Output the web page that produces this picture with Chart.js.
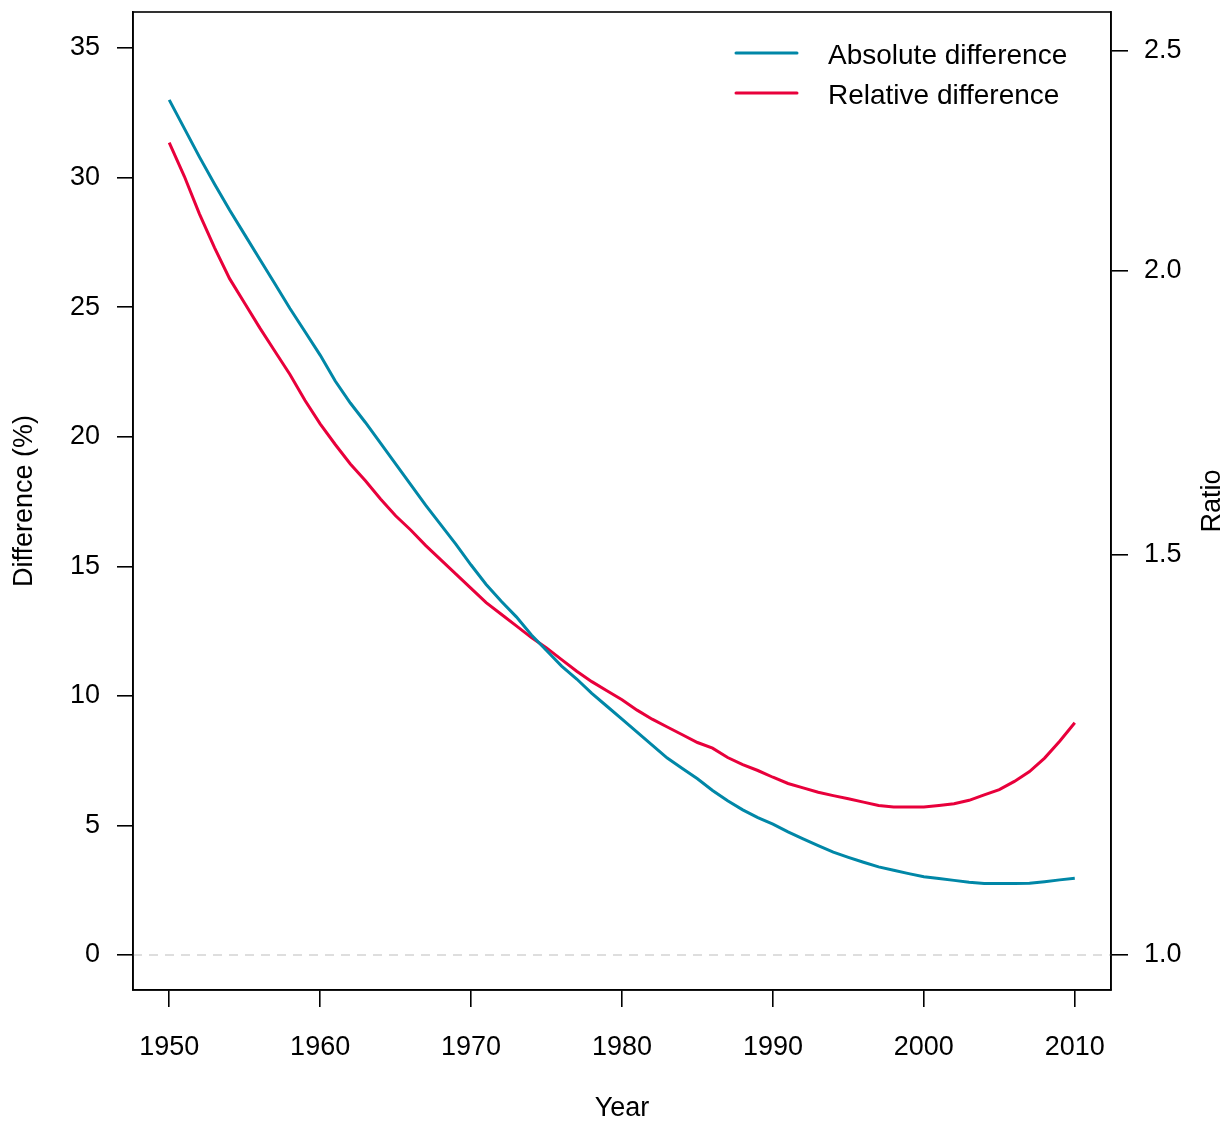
<!DOCTYPE html>
<html>
<head>
<meta charset="utf-8">
<script src="https://cdn.jsdelivr.net/npm/chart.js@4/dist/chart.umd.min.js"></script>
<style>
  html, body { margin: 0; padding: 0; background: #ffffff; }
  #wrap { width: 1228px; height: 1124px; }
</style>
</head>
<body>
<div id="wrap"><canvas id="chart" width="1228" height="1124"></canvas></div>
<script>
// Years of observation
const years = [
  1950, 1951, 1952, 1953, 1954, 1955, 1956, 1957, 1958, 1959,
  1960, 1961, 1962, 1963, 1964, 1965, 1966, 1967, 1968, 1969,
  1970, 1971, 1972, 1973, 1974, 1975, 1976, 1977, 1978, 1979,
  1980, 1981, 1982, 1983, 1984, 1985, 1986, 1987, 1988, 1989,
  1990, 1991, 1992, 1993, 1994, 1995, 1996, 1997, 1998, 1999,
  2000, 2001, 2002, 2003, 2004, 2005, 2006, 2007, 2008, 2009,
  2010
];

// Absolute difference (percentage points)
const absoluteDiff = [
  33.0, 31.9, 30.8, 29.75, 28.75, 27.8, 26.85, 25.9, 24.95, 24.05,
  23.15, 22.15, 21.3, 20.55, 19.75, 18.95, 18.15, 17.35, 16.6, 15.85,
  15.05, 14.3, 13.65, 13.05, 12.35, 11.75, 11.15, 10.65, 10.1, 9.6,
  9.1, 8.6, 8.1, 7.6, 7.2, 6.8, 6.35, 5.95, 5.6, 5.3,
  5.05, 4.75, 4.48, 4.22, 3.97, 3.77, 3.58, 3.4, 3.27, 3.14,
  3.02, 2.95, 2.88, 2.81, 2.76, 2.76, 2.76, 2.77, 2.83, 2.9,
  2.96
];

// Relative difference (plotted on the difference scale, read on the ratio axis)
const relativeDiff = [
  31.35, 30.05, 28.6, 27.3, 26.1, 25.15, 24.2, 23.3, 22.4, 21.4,
  20.5, 19.7, 18.95, 18.3, 17.6, 16.95, 16.4, 15.8, 15.25, 14.7,
  14.15, 13.6, 13.15, 12.7, 12.25, 11.85, 11.4, 10.95, 10.55, 10.2,
  9.85, 9.45, 9.1, 8.8, 8.5, 8.2, 7.98, 7.62, 7.35, 7.12,
  6.86, 6.62, 6.45, 6.28, 6.15, 6.03, 5.9, 5.77, 5.71, 5.71,
  5.71, 5.77, 5.84, 5.97, 6.18, 6.38, 6.7, 7.08, 7.6, 8.25,
  8.96
];

const seriesNames = ['Absolute difference', 'Relative difference'];
const seriesColors = ['#0087a7', '#e8003b'];

const xTicks = [1950, 1960, 1970, 1980, 1990, 2000, 2010];
const yTicks = [0, 5, 10, 15, 20, 25, 30, 35];
const ratioTicks = [1.0, 1.5, 2.0, 2.5];

const titleX = 'Year';
const titleLeft = 'Difference (%)';
const titleRight = 'Ratio';

// Axis limits (data range padded on each side)
const xMin = 1947.6, xMax = 2012.4;
const yMin = -1.35, yMax = 36.39;
// Ratio axis is logarithmic: difference value = ratioK * ln(ratio)
const ratioK = 38.1;
const ratioMin = Math.exp(yMin / ratioK);
const ratioMax = Math.exp(yMax / ratioK);

const FONT = '"Liberation Sans", Arial, sans-serif';
const FS = 27;

const tickFont = { family: FONT, size: FS };

// Keep scale labels from pushing the plotting region inwards
function fixVertical(width) {
  return s => { s.width = width; s.paddingTop = 0; s.paddingBottom = 0; };
}
function fixHorizontal(height) {
  return s => { s.height = height; s.paddingLeft = 0; s.paddingRight = 0; };
}

// Frame around the plotting region
const framePlugin = {
  id: 'frame',
  afterDraw(chart) {
    const { ctx, chartArea: a } = chart;
    ctx.save();
    ctx.strokeStyle = '#000';
    ctx.lineWidth = 1.6;
    ctx.strokeRect(a.left, a.top, a.right - a.left, a.bottom - a.top);
    ctx.restore();
  }
};

// Dashed reference line at zero difference
const zeroLinePlugin = {
  id: 'zeroLine',
  beforeDatasetsDraw(chart) {
    const { ctx, chartArea: a, scales } = chart;
    const y = scales.y.getPixelForValue(0);
    ctx.save();
    ctx.strokeStyle = '#d4d4d4';
    ctx.lineWidth = 1.6;
    ctx.setLineDash([9, 7]);
    ctx.beginPath();
    ctx.moveTo(a.left, y);
    ctx.lineTo(a.right, y);
    ctx.stroke();
    ctx.restore();
  }
};

// Legend inside the top-right corner and axis titles
const annotationsPlugin = {
  id: 'annotations',
  afterDraw(chart) {
    const { ctx, chartArea: a } = chart;
    ctx.save();
    ctx.fillStyle = '#000';

    // legend
    ctx.font = '28px ' + FONT;
    const rows = [53, 93];
    seriesNames.forEach((name, i) => {
      ctx.strokeStyle = seriesColors[i];
      ctx.lineWidth = 3;
      ctx.lineCap = 'round';
      ctx.beginPath();
      ctx.moveTo(736, rows[i]);
      ctx.lineTo(797, rows[i]);
      ctx.stroke();
      ctx.textAlign = 'left';
      ctx.textBaseline = 'middle';
      ctx.fillText(name, 828, rows[i] + 3);
    });

    // axis titles
    ctx.font = FS + 'px ' + FONT;
    ctx.textAlign = 'center';
    ctx.textBaseline = 'middle';
    ctx.fillText(titleX, (a.left + a.right) / 2, 1109);

    const midY = (a.top + a.bottom) / 2;
    ctx.save();
    ctx.translate(25, midY);
    ctx.rotate(-Math.PI / 2);
    ctx.fillText(titleLeft, 0, 0);
    ctx.restore();

    ctx.save();
    ctx.translate(1213, midY);
    ctx.rotate(-Math.PI / 2);
    ctx.fillText(titleRight, 0, 0);
    ctx.restore();

    ctx.restore();
  }
};

new Chart(document.getElementById('chart'), {
  type: 'line',
  data: {
    datasets: [
      {
        label: seriesNames[0],
        data: years.map((yr, i) => ({ x: yr, y: absoluteDiff[i] })),
        borderColor: seriesColors[0],
        borderWidth: 3,
        pointRadius: 0,
        tension: 0,
        yAxisID: 'y'
      },
      {
        label: seriesNames[1],
        data: years.map((yr, i) => ({ x: yr, y: relativeDiff[i] })),
        borderColor: seriesColors[1],
        borderWidth: 3,
        pointRadius: 0,
        tension: 0,
        yAxisID: 'y'
      }
    ]
  },
  options: {
    responsive: false,
    animation: false,
    events: [],
    layout: { autoPadding: false, padding: { top: 12, left: 0, right: 0, bottom: 0 } },
    plugins: { legend: { display: false }, tooltip: { enabled: false } },
    scales: {
      x: {
        type: 'linear',
        position: 'bottom',
        min: xMin,
        max: xMax,
        afterBuildTicks(s) { s.ticks = xTicks.map(v => ({ value: v })); },
        afterFit: fixHorizontal(134),
        grid: { drawOnChartArea: false, tickLength: 17, color: '#000', lineWidth: 1.6 },
        border: { color: '#000', width: 1.6 },
        ticks: {
          font: tickFont, color: '#000', padding: 24,
          maxRotation: 0, autoSkip: false,
          callback: v => String(v)
        }
      },
      y: {
        type: 'linear',
        position: 'left',
        min: yMin,
        max: yMax,
        afterBuildTicks(s) { s.ticks = yTicks.map(v => ({ value: v })); },
        afterFit: fixVertical(133),
        grid: { drawOnChartArea: false, tickLength: 16, color: '#000', lineWidth: 1.6 },
        border: { color: '#000', width: 1.6 },
        ticks: {
          font: tickFont, color: '#000', padding: 17, autoSkip: false,
          callback: v => String(v)
        }
      },
      y2: {
        type: 'logarithmic',
        position: 'right',
        min: ratioMin,
        max: ratioMax,
        afterBuildTicks(s) { s.ticks = ratioTicks.map(v => ({ value: v })); },
        afterFit: fixVertical(117),
        grid: { drawOnChartArea: false, tickLength: 17, color: '#000', lineWidth: 1.6 },
        border: { color: '#000', width: 1.6 },
        ticks: {
          font: tickFont, color: '#000', padding: 16, autoSkip: false,
          callback: v => Number(v).toFixed(1)
        }
      }
    }
  },
  plugins: [zeroLinePlugin, framePlugin, annotationsPlugin]
});
</script>
</body>
</html>
